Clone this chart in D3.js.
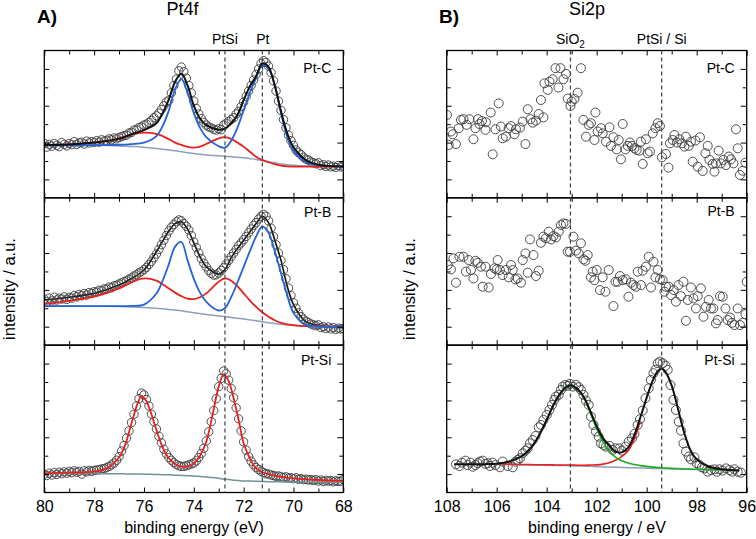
<!DOCTYPE html>
<html><head><meta charset="utf-8">
<script src="https://cdn.jsdelivr.net/npm/d3@7"></script>
<style>body{margin:0;background:#fff}</style>
</head><body><svg id="chart" width="756" height="539"></svg>
<script>
// ---------------- DATA ----------------
// Panel A (Pt4f): fit-curve energy grid and components (intensity, a.u.)
const gridA = [80,79,78,77,76.5,76,75.5,75.25,75,74.75,74.5,74.25,74,73.75,73.5,73,72.75,72.5,72.25,72,71.75,71.5,71.25,71,70.75,70.5,70.25,70,69.5,69,68];
const A_PtC_gray  = [2.85,2.85,2.85,2.82,2.79,2.75,2.68,2.64,2.60,2.55,2.50,2.45,2.40,2.36,2.33,2.28,2.26,2.23,2.20,2.18,2.13,2.08,2.02,1.96,1.90,1.84,1.80,1.77,1.73,1.71,1.70];
const A_PtC_blue  = [2.85,2.85,2.86,2.88,2.92,3.00,3.35,3.90,4.75,5.90,6.45,5.70,4.60,3.80,3.30,2.80,2.72,3.10,3.80,4.75,5.70,6.50,7.20,7.00,6.10,4.60,3.30,2.55,1.95,1.77,1.70];
const A_PtC_red   = [2.85,2.90,3.00,3.23,3.45,3.54,3.47,3.35,3.18,3.00,2.87,2.76,2.72,2.78,2.92,3.23,3.29,3.20,3.00,2.78,2.50,2.23,2.05,1.93,1.83,1.75,1.71,1.69,1.69,1.69,1.69];
const A_PtC_black = [2.87,2.90,3.00,3.20,3.45,3.68,4.05,4.60,5.35,6.30,6.75,6.10,5.00,4.30,3.95,3.70,3.75,4.05,4.50,5.30,6.05,6.60,7.30,7.10,6.10,4.70,3.50,2.75,2.05,1.80,1.70];

const A_PtB_gray  = [2.12,2.12,2.11,2.09,2.07,2.04,2.00,1.97,1.94,1.90,1.86,1.81,1.76,1.71,1.66,1.58,1.55,1.50,1.46,1.42,1.37,1.32,1.27,1.22,1.17,1.13,1.10,1.07,1.03,1.01,1.00];
const A_PtB_blue  = [2.12,2.12,2.12,2.12,2.13,2.20,2.80,3.50,4.40,5.35,5.60,4.60,3.60,2.85,2.35,1.88,2.00,2.60,3.40,4.25,5.10,5.90,6.45,6.10,5.10,3.90,2.70,1.75,1.10,1.01,1.00];
const A_PtB_red   = [2.23,2.40,2.63,3.08,3.41,3.62,3.50,3.30,3.08,2.85,2.66,2.52,2.50,2.60,2.81,3.44,3.62,3.50,3.20,2.81,2.42,2.08,1.78,1.54,1.35,1.21,1.13,1.09,1.03,1.00,1.00];
const A_PtB_black = [2.45,2.60,2.81,3.26,3.62,4.08,5.07,5.65,6.20,6.60,6.70,6.30,5.55,4.80,4.26,3.85,4.10,4.75,5.25,5.70,6.15,6.60,7.00,6.65,5.70,4.60,3.20,2.20,1.27,1.07,0.95];

const gridASi = [80,79,78,77.5,77.25,77,76.75,76.5,76.25,76.1,75.9,75.75,75.5,75.25,75,74.75,74.5,74.25,74,73.75,73.5,73.25,73,72.8,72.6,72.4,72.2,72,71.75,71.5,71.25,71,70.5,70,69,68];
const A_PtSi_red  = [1.04,1.08,1.13,1.31,1.55,1.90,2.60,3.76,4.85,5.24,4.95,4.45,3.40,2.45,1.86,1.55,1.40,1.42,1.59,2.00,2.76,4.20,5.75,6.42,6.05,5.10,3.94,2.67,1.85,1.31,1.10,1.00,0.85,0.77,0.68,0.63];
const A_PtSi_gray = [1.04,1.03,1.03,1.02,1.02,1.02,1.01,1.01,1.00,1.00,0.99,0.99,0.98,0.97,0.96,0.94,0.93,0.91,0.90,0.87,0.84,0.81,0.77,0.73,0.70,0.67,0.65,0.63,0.62,0.61,0.60,0.59,0.58,0.57,0.56,0.55];

// Panel A measured points: 80.0 eV down to 68.0 eV in 0.1 eV steps
const ptsA_energy = d3.range(0, 121).map(i => +(80 - i * 0.1).toFixed(1));
const ptsA_PtC = [
 2.95,2.75,2.90,2.80,2.95,2.85,2.78,3.00,2.90,2.82,
 2.95,2.88,3.05,2.90,2.98,3.02,2.92,3.08,2.98,3.05,
 3.00,3.10,3.02,3.15,3.08,3.12,3.20,3.15,3.25,3.20,
 3.28,3.32,3.38,3.40,3.52,3.55,3.68,3.70,3.82,3.85,
 3.95,4.00,4.10,4.20,4.35,4.45,4.60,4.80,5.00,5.20,
 5.30,5.70,6.10,6.45,6.90,7.10,6.85,6.50,6.10,5.70,
 5.25,4.85,4.55,4.30,4.10,3.95,3.85,3.80,3.72,3.68,
 3.75,3.70,3.95,4.05,4.15,4.25,4.35,4.55,4.70,4.95,
 5.20,5.50,5.80,6.10,6.40,6.70,7.00,7.30,7.45,7.35,
 7.15,6.80,6.35,5.80,5.25,4.75,4.25,3.80,3.40,3.10,
 2.85,2.60,2.45,2.35,2.20,2.10,2.05,1.95,1.90,1.85,
 1.90,1.75,1.80,1.70,1.78,1.68,1.72,1.65,1.75,1.68,
 1.72];
const ptsA_PtB = [
 2.50,2.35,2.55,2.40,2.60,2.45,2.55,2.50,2.62,2.48,
 2.60,2.55,2.70,2.62,2.75,2.68,2.80,2.72,2.85,2.80,
 2.90,2.88,2.98,2.95,3.05,3.05,3.15,3.12,3.22,3.25,
 3.32,3.38,3.45,3.50,3.58,3.65,3.75,3.82,3.92,4.00,
 4.10,4.22,4.38,4.55,4.75,4.95,5.20,5.45,5.70,5.95,
 6.20,6.40,6.55,6.70,6.80,6.75,6.60,6.45,6.25,5.95,
 5.60,5.30,5.00,4.70,4.45,4.25,4.05,3.90,3.80,3.82,
 3.92,4.05,4.20,4.40,4.60,4.80,5.00,5.20,5.40,5.55,
 5.72,5.90,6.10,6.30,6.50,6.65,6.85,7.00,7.10,7.00,
 6.75,6.35,5.90,5.45,5.00,4.60,4.10,3.60,3.10,2.70,
 2.30,2.00,1.75,1.55,1.40,1.30,1.22,1.15,1.10,1.05,
 1.10,0.95,1.00,0.90,0.98,0.88,0.95,0.85,0.92,0.88,
 0.90];
const ptsA_PtSi = [
 1.00,0.92,1.05,0.95,1.08,0.98,1.10,1.02,1.12,1.05,
 1.15,1.08,1.18,1.10,1.15,1.00,1.18,1.12,1.20,1.15,
 1.20,1.22,1.24,1.28,1.30,1.35,1.42,1.50,1.60,1.75,
 1.95,2.25,2.55,2.95,3.35,3.80,4.25,4.70,5.10,5.40,
 5.30,5.05,4.70,4.25,3.85,3.45,3.05,2.70,2.35,2.10,
 1.90,1.75,1.62,1.52,1.45,1.42,1.42,1.45,1.50,1.55,
 1.60,1.72,1.90,2.12,2.40,2.80,3.30,3.85,4.45,5.10,
 5.75,6.20,6.60,6.45,6.10,5.65,5.15,4.60,4.00,3.35,
 2.75,2.30,1.95,1.70,1.50,1.35,1.25,1.15,1.08,1.02,
 1.00,0.95,0.92,0.88,0.90,0.85,0.82,0.85,0.78,0.80,
 0.75,0.80,0.72,0.75,0.70,0.72,0.68,0.70,0.65,0.70,
 0.62,0.68,0.60,0.66,0.62,0.65,0.58,0.64,0.60,0.62,
 0.70];

// Panel B (Si2p) measured points
const ptsB_PtC_energy = [
 107.99,107.92,107.83,107.76,107.63,107.52,107.43,107.33,107.20,107.09,
 106.93,106.85,106.75,106.69,106.59,106.45,106.43,106.24,106.16,106.05,
 105.92,105.83,105.76,105.63,105.52,105.43,105.29,105.23,105.07,104.96,
 104.85,104.76,104.65,104.56,104.43,104.32,104.23,104.13,104.09,103.96,
 103.89,103.76,103.65,103.53,103.45,103.33,103.23,103.16,103.05,103.00,
 102.89,102.76,102.63,102.53,102.43,102.32,102.23,102.09,102.05,101.96,
 101.83,101.76,101.63,101.49,101.43,101.33,101.20,101.12,101.03,100.96,
 100.85,100.76,100.67,100.59,100.49,100.40,100.29,100.23,100.16,100.03,
 99.96,99.87,99.76,99.65,99.56,99.47,99.39,99.23,99.13,99.07,
 98.96,98.89,98.79,98.69,98.59,98.49,98.43,98.32,98.23,98.16,
 98.05,97.96,97.87,97.76,97.65,97.56,97.49,97.36,97.29,97.23,
 97.12,97.03,96.93,96.83,96.72,96.63,96.53,96.43,96.36,96.27,
 96.16,96.05];
const ptsB_PtC = [
 4.50,2.87,3.60,3.45,2.92,3.78,4.23,4.27,3.96,4.27,
 3.18,3.78,4.27,4.01,4.17,3.69,4.10,4.63,2.36,3.72,
 5.13,3.87,3.23,3.32,3.78,3.90,3.45,3.72,3.81,4.14,
 2.92,4.81,4.27,4.08,4.19,4.55,5.31,4.37,6.22,5.86,
 6.31,6.44,7.04,5.99,7.04,6.44,6.73,5.39,4.99,5.23,
 5.37,5.71,7.04,4.23,3.32,3.96,4.05,3.14,4.63,3.60,
 3.78,3.50,3.05,3.83,2.82,3.29,2.63,3.14,2.09,4.01,
 2.63,2.82,3.00,2.82,2.69,2.60,2.56,3.05,1.84,3.18,
 2.42,2.51,3.50,3.78,4.05,3.90,2.20,2.38,1.64,2.96,
 3.14,3.41,3.00,3.18,2.96,2.78,3.32,2.82,3.05,1.96,
 3.11,1.69,3.29,1.46,2.42,2.82,2.06,1.84,1.42,1.87,
 2.56,1.87,2.06,1.78,2.24,2.09,1.87,3.72,2.69,1.24,
 1.47,1.91];
const ptsB_PtB_energy = [
 107.96,107.83,107.73,107.63,107.49,107.33,107.23,107.12,107.03,106.93,
 106.85,106.76,106.63,106.56,106.45,106.32,106.23,106.09,106.00,105.96,
 105.87,105.76,105.63,105.52,105.43,105.36,105.25,105.16,105.03,104.96,
 104.85,104.76,104.67,104.53,104.43,104.32,104.23,104.13,104.03,103.92,
 103.83,103.73,103.63,103.52,103.43,103.33,103.23,103.16,103.07,102.93,
 102.83,102.72,102.63,102.53,102.45,102.36,102.23,102.16,102.09,102.00,
 101.87,101.76,101.65,101.52,101.33,101.25,101.16,101.07,100.96,100.83,
 100.73,100.63,100.53,100.43,100.36,100.23,100.16,100.03,99.92,99.83,
 99.73,99.65,99.56,99.47,99.36,99.29,99.23,99.12,99.03,98.92,
 98.83,98.73,98.63,98.53,98.43,98.36,98.23,98.13,98.03,97.96,
 97.83,97.73,97.63,97.52,97.43,97.33,97.23,97.16,97.07,96.96,
 96.85,96.76,96.67,96.59,96.49,96.36,96.27,96.16,96.05,96.00];
const ptsB_PtB = [
 4.35,4.11,4.71,3.39,4.80,4.80,3.99,4.62,4.08,3.62,
 4.58,4.47,4.26,3.17,4.26,3.13,3.86,4.17,4.11,4.62,
 4.08,3.80,4.08,3.68,4.35,4.08,3.57,3.62,3.39,4.62,
 4.98,3.93,5.74,4.89,3.75,4.04,5.56,5.89,5.80,6.16,
 5.74,5.92,5.85,6.16,6.52,6.61,6.58,5.07,5.07,5.89,
 5.13,4.98,5.53,4.66,4.58,4.89,3.68,3.99,3.53,4.08,
 2.99,3.68,2.90,4.08,2.12,3.44,3.44,3.75,3.53,3.57,
 2.63,3.39,3.26,3.17,3.99,3.26,4.04,4.26,4.80,3.13,
 4.53,3.68,4.08,3.57,3.53,2.90,3.17,3.17,2.72,2.99,
 2.36,3.26,2.66,3.44,1.32,2.45,3.13,2.54,1.99,2.66,
 3.08,1.54,2.08,2.45,1.99,1.99,1.18,1.36,2.66,2.63,
 1.99,1.36,1.50,1.21,1.09,1.99,1.09,1.21,1.68,3.44];
const ptsB_PtSi_energy = [
 107.63,107.49,107.39,107.25,107.16,107.05,106.96,106.85,106.76,106.67,
 106.56,106.45,106.36,106.27,106.16,106.05,105.87,105.76,105.56,105.36,
 105.25,105.16,105.07,104.96,104.85,104.76,104.67,104.56,104.45,104.32,
 104.23,104.13,104.00,103.89,103.79,103.69,103.63,103.52,103.43,103.36,
 103.25,103.16,103.07,102.96,102.83,102.72,102.63,102.53,102.43,102.32,
 102.23,102.13,102.03,101.92,101.83,101.73,101.63,101.49,101.36,101.25,
 101.09,100.99,100.85,100.72,100.59,100.49,100.36,100.27,100.16,100.05,
 99.92,99.83,99.73,99.65,99.56,99.47,99.36,99.25,99.16,99.05,
 98.93,98.83,98.72,98.63,98.53,98.43,98.32,98.23,98.09,98.00,
 97.89,97.79,97.69,97.56,97.43,97.29,97.20,97.09,96.96,96.83,
 96.69,96.59,96.49,96.36,96.23];
const ptsB_PtSi = [
 1.53,1.44,1.62,1.73,1.49,1.62,1.40,1.49,1.59,1.68,
 1.73,1.55,1.59,1.44,1.62,1.49,1.37,1.68,1.44,1.37,
 1.68,1.77,1.86,2.13,2.27,2.40,2.67,2.85,3.07,3.54,
 3.67,3.94,4.21,4.48,4.76,5.03,5.21,5.30,5.57,5.75,
 5.84,5.79,5.90,5.75,5.84,5.72,5.57,5.30,4.99,4.76,
 4.12,3.67,3.31,3.03,2.67,2.58,2.49,2.53,2.31,2.40,
 2.40,2.27,2.49,2.76,2.94,3.18,3.67,3.98,4.45,5.12,
 5.66,6.11,6.48,6.66,7.02,7.11,7.02,6.88,6.66,5.84,
 5.03,4.48,3.85,3.36,2.67,2.22,1.95,1.80,1.91,1.59,
 1.49,1.37,1.31,1.13,1.22,1.26,1.13,1.26,1.19,1.31,
 1.22,1.13,1.26,1.13,1.08];

// Panel B Pt-Si fit
const gridBSi = [107.7,107,106.5,106,105.5,105,104.75,104.5,104.25,104,103.75,103.5,103.25,103.05,102.75,102.5,102.25,102,101.75,101.5,101.25,101,100.75,100.5,100.25,100,99.75,99.55,99.4,99.25,99,98.75,98.5,98.25,98,97.5,97,96.3];
const B_PtSi_black = [1.53,1.53,1.54,1.56,1.68,1.98,2.25,2.67,3.25,3.95,4.70,5.30,5.70,5.82,5.60,5.15,4.40,3.60,2.95,2.55,2.22,2.18,2.42,3.10,4.10,5.15,6.10,6.60,6.72,6.55,5.80,4.55,3.25,2.30,1.80,1.40,1.26,1.19];
const B_PtSi_green = [null,null,null,1.55,1.66,1.95,2.22,2.64,3.22,3.92,4.67,5.27,5.67,5.79,5.57,5.10,4.30,3.45,2.75,2.25,1.92,1.72,1.60,1.52,1.46,1.42,1.38,1.36,1.34,1.33,1.31,1.30,1.28,1.27,1.26,1.24,1.22,1.19];
const B_PtSi_red   = [null,null,null,1.56,1.54,1.52,1.52,1.51,1.51,1.50,1.50,1.49,1.49,1.49,1.48,1.48,1.49,1.50,1.54,1.62,1.75,1.95,2.25,2.90,3.90,null,null,null,null,null,null,null,null,null,null,null,null,null];
const B_PtSi_gray  = [null,null,null,1.53,1.52,1.50,1.49,1.49,1.48,1.48,1.47,1.46,1.46,1.45,1.44,1.43,1.42,1.40,1.39,1.38,1.37,1.36,1.35,1.34,1.33,1.32,1.31,1.30,1.30,1.29,1.28,1.27,1.26,1.26,1.25,1.23,1.22,1.20];

// reference lines and tick labels
const refLinesA = [72.75, 71.25];
const refLinesB = [103.05, 99.4];
const ticksA = [80,78,76,74,72,70,68], minorA = [79,77,75,73,71,69];
const ticksB = [108,106,104,102,100,98,96], minorB = [107,105,103,101,99,97];
const sampleNames = ["Pt-C", "Pt-B", "Pt-Si"];

// ---------------- DRAWING ----------------
const svg = d3.select("#chart");
const FONT = '"Liberation Sans", Arial, Helvetica, sans-serif';
const ROW_TOP = [50.5, 197.8, 345.2], ROW_H = 147.3;
const COL = {black:"#101010", blue:"#2563d6", red:"#e8211e", gray:"#8aa0bb", graySi:"#6e9494",
             green:"#1faa22", pts:"#3c3c3c", dash:"#3a3f48"};
const PANELS = {A:{x0:44.3, x1:343.3, dom:[80,68], major:ticksA, minor:minorA},
                B:{x0:446.7, x1:746.7, dom:[108,96], major:ticksB, minor:minorB}};

let clipN = 0;
function subplot(P, row, cfg) {
  const top = ROW_TOP[row], bot = top + ROW_H;
  const x = d3.scaleLinear().domain(P.dom).range([P.x0, P.x1]);
  const y = d3.scaleLinear().domain([0, 8]).range([bot, top]);
  const id = "clip" + (clipN++);
  svg.append("clipPath").attr("id", id).append("rect")
     .attr("x", P.x0).attr("y", top).attr("width", P.x1 - P.x0).attr("height", ROW_H);
  const g = svg.append("g").attr("clip-path", `url(#${id})`);
  const line = d3.line().defined(d => d[1] != null)
     .x(d => x(d[0])).y(d => y(d[1])).curve(d3.curveCatmullRom.alpha(0.5));
  const draw = list => (list || []).forEach(l => {
    g.append("path").datum(l.e.map((e, i) => [e, l.v[i]]))
     .attr("fill", "none").attr("stroke", l.c).attr("stroke-width", l.w)
     .attr("stroke-linejoin", "round").attr("d", line);
  });
  draw(cfg.under);
  g.append("g").selectAll("circle").data(cfg.pe.map((e, i) => [e, cfg.pv[i]])).join("circle")
   .attr("cx", d => x(d[0])).attr("cy", d => y(d[1])).attr("r", cfg.r)
   .attr("fill", "none").attr("stroke", COL.pts).attr("stroke-width", 0.9);
  draw(cfg.over);

  const ax = (gen, tx, ty) => {
    const a = svg.append("g").attr("transform", `translate(${tx},${ty})`).call(gen);
    a.select(".domain").remove();
    a.selectAll("line").attr("stroke", "#000").attr("stroke-width", 1);
    a.attr("font-family", FONT).attr("font-size", 16);
    a.selectAll("text").attr("fill", "#000");
    return a;
  };
  const blank = () => "";
  ax(d3.axisBottom(x).tickValues(P.major).tickSize(-5).tickSizeOuter(0).tickPadding(8)
      .tickFormat(row === 2 ? d3.format("d") : blank), 0, bot);
  ax(d3.axisBottom(x).tickValues(P.minor).tickSize(-4).tickSizeOuter(0).tickFormat(blank), 0, bot);
  ax(d3.axisTop(x).tickValues(P.major).tickSize(-5).tickSizeOuter(0).tickFormat(blank), 0, top);
  ax(d3.axisTop(x).tickValues(P.minor).tickSize(-4).tickSizeOuter(0).tickFormat(blank), 0, top);
  ax(d3.axisLeft(y).tickValues([1,3,5,7]).tickSize(-5).tickSizeOuter(0).tickFormat(blank), P.x0, 0);
  ax(d3.axisLeft(y).tickValues([2,4,6]).tickSize(-4).tickSizeOuter(0).tickFormat(blank), P.x0, 0);
  ax(d3.axisRight(y).tickValues([1,3,5,7]).tickSize(-6).tickSizeOuter(0).tickFormat(blank), P.x1, 0);
  ax(d3.axisRight(y).tickValues([2,4,6]).tickSize(-4).tickSizeOuter(0).tickFormat(blank), P.x1, 0);

  svg.append("rect").attr("x", P.x0).attr("y", top).attr("width", P.x1 - P.x0).attr("height", ROW_H)
     .attr("fill", "none").attr("stroke", "#000").attr("stroke-width", 1.3);
  svg.append("text").attr("x", P.x1 - 12).attr("y", cfg.labelY).attr("text-anchor", "end")
     .attr("font-family", FONT).attr("font-size", 14).text(sampleNames[row]);
  return {x, y};
}

const L = (e, v, c, w) => ({e, v, c, w});
// Panel A
const a0 = subplot(PANELS.A, 0, {pe: ptsA_energy, pv: ptsA_PtC, r: 4.2, labelY: 73.3,
  under: [],
  over: [L(gridA, A_PtC_gray, COL.gray, 1.5), L(gridA, A_PtC_red, COL.red, 1.8),
         L(gridA, A_PtC_blue, COL.blue, 1.8), L(gridA, A_PtC_black, COL.black, 2)]});
subplot(PANELS.A, 1, {pe: ptsA_energy, pv: ptsA_PtB, r: 4.2, labelY: 216.5,
  under: [L(gridA, A_PtB_black, COL.black, 1.6)],
  over: [L(gridA, A_PtB_gray, COL.gray, 1.5), L(gridA, A_PtB_red, COL.red, 1.8),
         L(gridA, A_PtB_blue, COL.blue, 1.8)]});
subplot(PANELS.A, 2, {pe: ptsA_energy, pv: ptsA_PtSi, r: 4.2, labelY: 365,
  under: [],
  over: [L(gridASi, A_PtSi_gray, COL.graySi, 1.5), L(gridASi, A_PtSi_red, COL.red, 1.8)]});
// Panel B
const b0 = subplot(PANELS.B, 0, {pe: ptsB_PtC_energy, pv: ptsB_PtC, r: 4.5, labelY: 73.3});
subplot(PANELS.B, 1, {pe: ptsB_PtB_energy, pv: ptsB_PtB, r: 4.5, labelY: 215.5});
subplot(PANELS.B, 2, {pe: ptsB_PtSi_energy, pv: ptsB_PtSi, r: 4.5, labelY: 365,
  under: [],
  over: [L(gridBSi, B_PtSi_gray, COL.gray, 1.5), L(gridBSi, B_PtSi_red, COL.red, 1.6),
         L(gridBSi, B_PtSi_green, COL.green, 1.6), L(gridBSi, B_PtSi_black, COL.black, 2)]});

// dashed reference lines
const yTop = ROW_TOP[0], yBot = ROW_TOP[2] + ROW_H;
svg.selectAll("line.refA").data(refLinesA).join("line")
   .attr("x1", d => a0.x(d)).attr("x2", d => a0.x(d)).attr("y1", yTop).attr("y2", yBot)
   .attr("stroke", COL.dash).attr("stroke-width", 1.2).attr("stroke-dasharray", "4,3");
svg.selectAll("line.refB").data(refLinesB).join("line")
   .attr("x1", d => b0.x(d)).attr("x2", d => b0.x(d)).attr("y1", yTop).attr("y2", yBot)
   .attr("stroke", COL.dash).attr("stroke-width", 1.2).attr("stroke-dasharray", "4,3");

// texts
const T = (x, y, s, size, opts = {}) => svg.append("text").attr("x", x).attr("y", y)
   .attr("font-family", FONT).attr("font-size", size)
   .attr("text-anchor", opts.anchor || "middle").attr("font-weight", opts.bold ? "bold" : null)
   .text(s);
T(37, 22.7, "A)", 19, {anchor: "start", bold: true});
T(439, 22.7, "B)", 19, {anchor: "start", bold: true});
T(182.5, 15, "Pt4f", 18);
T(587, 15, "Si2p", 18);
T(a0.x(refLinesA[0]), 43.5, "PtSi", 14);
T(a0.x(refLinesA[1]) + 0.5, 43.5, "Pt", 14);
const sio = T(b0.x(refLinesB[0]), 43.5, "SiO", 14);
sio.append("tspan").attr("font-size", 10).attr("dy", 4).text("2");
T(b0.x(refLinesB[1]), 43.5, "PtSi / Si", 14);
T(194, 533, "binding energy (eV)", 16);
T(597, 533, "binding energy / eV", 16);
svg.append("text").attr("transform", "translate(14.5,289) rotate(-90)").attr("text-anchor", "middle")
   .attr("font-family", FONT).attr("font-size", 16.5).text("intensity / a.u.");
svg.append("text").attr("transform", "translate(415,289) rotate(-90)").attr("text-anchor", "middle")
   .attr("font-family", FONT).attr("font-size", 16.5).text("intensity / a.u.");
</script>
</body></html>
